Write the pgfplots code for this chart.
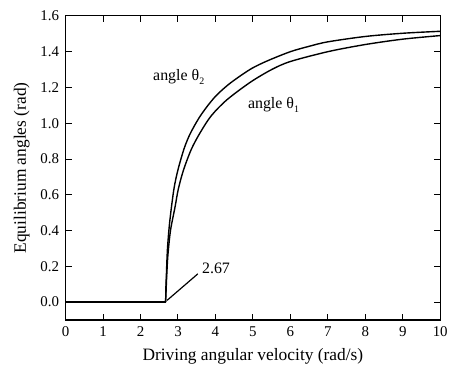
\documentclass[border=0pt]{standalone}
\usepackage{pgfplots}
\pgfplotsset{compat=1.18}
\usetikzlibrary{calc}
\usepackage{fontspec}
\setmainfont{Liberation Serif}
\newcommand{\ang}[1]{angle θ\raisebox{-0.55ex}{\fontsize{10}{10}\selectfont #1}}
\begin{document}
\begin{tikzpicture}
\begin{axis}[
  scale only axis,
  width=377pt, height=306pt,
  xmin=0, xmax=10, ymin=-0.1, ymax=1.6,
  xtick={0,1,...,10},
  ytick={0,0.2,...,1.6},
  tick align=inside,
  major tick length=6pt,
  tick style={black, line width=1pt},
  axis line style={line width=1.1pt},
  yticklabel style={xshift=-3pt, /pgf/number format/.cd, fixed, fixed zerofill, precision=1},
  xticklabel style={yshift=-3pt},
  /pgf/number format/assume math mode=true,
  ticklabel style={font=\fontsize{15}{18}\selectfont},
  label style={font=\fontsize{17.5}{20}\selectfont},
  xlabel={Driving angular velocity (rad/s)},
  ylabel={Equilibrium angles (rad)},
  xlabel style={at={(axis description cs:0.5,-0.118)}, anchor=center},
  ylabel style={at={(axis description cs:-0.117,0.5)}, anchor=center, rotate=0},
]
\addplot[black, line width=1.4pt, smooth, tension=0.5] coordinates {
(2.67,0) (2.68,0.1) (2.69,0.15) (2.72,0.30) (2.78,0.45) (2.89,0.63) (3.0,0.74)
(3.16,0.856) (3.3,0.93) (3.45,0.99) (3.6,1.042) (3.8,1.10) (4.0,1.15) (4.2,1.19)
(4.4,1.225) (4.7,1.27) (5.0,1.31) (5.4,1.35) (6,1.40) (6.5,1.43) (7,1.455)
(8,1.485) (9,1.503) (10,1.514)};
\addplot[black, line width=1.4pt] coordinates {(0,0) (2.67,0)};
\addplot[black, line width=1.4pt, smooth, tension=0.5] coordinates {
(2.67,0) (2.70,0.15) (2.73,0.26) (2.8,0.40) (2.92,0.53) (3.01,0.633)
(3.15,0.74) (3.36,0.856) (3.6,0.95) (3.89,1.042) (4.3,1.13) (4.93,1.229)
(5.5,1.30) (6,1.345) (7,1.40) (8,1.44) (9,1.47) (10,1.49)};
\addplot[black, line width=1.2pt] coordinates {(2.71,0.01) (3.53,0.158)};
\node[anchor=west, font=\fontsize{16}{18}\selectfont] at (axis cs:3.55,0.19) {2.67};
\node[font=\fontsize{16}{18}\selectfont] at (axis cs:3.02,1.26) {\ang{2}};
\node[font=\fontsize{16}{18}\selectfont] at (axis cs:5.55,1.10) {\ang{1}};
\end{axis}
\path ($(current axis.south west)+(-66pt,-47pt)$) rectangle ($(current axis.north east)+(8pt,16pt)$);
\end{tikzpicture}
\end{document}
